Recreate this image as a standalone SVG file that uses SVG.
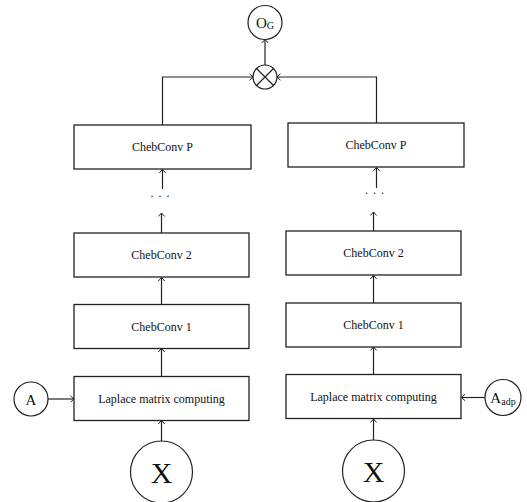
<svg xmlns="http://www.w3.org/2000/svg" width="527" height="502" viewBox="0 0 527 502">
<defs>
<marker id="arr" markerUnits="userSpaceOnUse" markerWidth="8" markerHeight="8" refX="4" refY="4" orient="auto">
<path d="M0.5,0.8 L4,4 L0.5,7.2" fill="none" stroke="#222" stroke-width="1"/>
</marker>
<style>
.box{fill:#fff;stroke:#222;stroke-width:1.3}
.c{fill:#fff;stroke:#222;stroke-width:1.2}
.t{font-family:"Liberation Serif","Times New Roman",serif;font-size:12px;fill:#111;text-anchor:middle}
.big{font-family:"Liberation Serif","Times New Roman",serif;fill:#111;text-anchor:middle}
.ln{fill:none;stroke:#222;stroke-width:1.2;marker-end:url(#arr)}
</style>
</defs>
<rect width="527" height="502" fill="#fff"/>
<g id="connectors">
<path class="ln" d="M161.5,441 V420.5"/>
<path class="ln" d="M161.5,376 V348.5"/>
<path class="ln" d="M161.5,304 V277.5"/>
<path class="ln" d="M161.5,233 V213"/>
<path class="ln" d="M162.5,189 V169.5"/>
<path class="ln" d="M162.5,125 V77 H253"/>
<path class="ln" d="M48,399 H74"/>
<path class="ln" d="M373.5,440 V419"/>
<path class="ln" d="M373.5,374.5 V347"/>
<path class="ln" d="M373.5,303 V275.5"/>
<path class="ln" d="M373.5,231 V212"/>
<path class="ln" d="M376.5,188 V167.5"/>
<path class="ln" d="M376.5,123 V77 H277"/>
<path class="ln" d="M485,397.5 H461.5"/>
<path class="ln" d="M265,65 V39.5"/>
</g>
<g id="og"><circle class="c" cx="265" cy="22.5" r="17"/><text class="big" x="265" y="28" font-size="15">O<tspan font-size="10" dy="1">G</tspan></text></g>
<g id="mul"><circle class="c" cx="265" cy="77" r="12"/><path d="M256.5,68.5 L273.5,85.5 M273.5,68.5 L256.5,85.5" stroke="#222" stroke-width="1.2"/></g>
<g id="lp"><rect class="box" x="74" y="125" width="177" height="44"/><text class="t" x="162.5" y="151">ChebConv P</text></g>
<g id="ldots"><text class="t" x="160.5" y="197" letter-spacing="1">. . .</text></g>
<g id="l2"><rect class="box" x="74" y="233" width="175" height="44"/><text class="t" x="161.5" y="259">ChebConv 2</text></g>
<g id="l1"><rect class="box" x="74" y="304.5" width="175" height="44"/><text class="t" x="161.5" y="330.5">ChebConv 1</text></g>
<g id="llap"><rect class="box" x="74" y="376.5" width="175" height="44"/><text class="t" x="161.5" y="402.5">Laplace matrix computing</text></g>
<g id="a"><circle class="c" cx="31" cy="399" r="17"/><text class="big" x="31" y="404.5" font-size="15">A</text></g>
<g id="lx"><circle class="c" cx="161.5" cy="472" r="31"/><text class="big" x="161.5" y="483" font-size="30">X</text></g>
<g id="rp"><rect class="box" x="288" y="123" width="176" height="44"/><text class="t" x="376" y="149">ChebConv P</text></g>
<g id="rdots"><text class="t" x="375" y="194" letter-spacing="1">. . .</text></g>
<g id="r2"><rect class="box" x="286" y="231" width="175" height="44"/><text class="t" x="373.5" y="257">ChebConv 2</text></g>
<g id="r1"><rect class="box" x="286" y="303" width="175" height="44"/><text class="t" x="373.5" y="329">ChebConv 1</text></g>
<g id="rlap"><rect class="box" x="286" y="374.5" width="175" height="44"/><text class="t" x="373.5" y="400.5">Laplace matrix computing</text></g>
<g id="aadp"><circle class="c" cx="503" cy="397.5" r="18"/><text class="big" x="503" y="403" font-size="15">A<tspan font-size="10" dy="2">adp</tspan></text></g>
<g id="rx"><circle class="c" cx="373.5" cy="471" r="31"/><text class="big" x="373.5" y="482" font-size="30">X</text></g>
</svg>
